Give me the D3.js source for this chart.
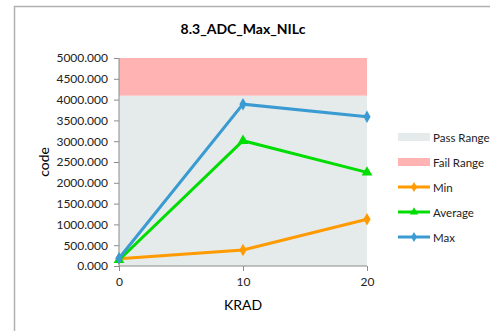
<!DOCTYPE html>
<html><head><meta charset="utf-8">
<script src="https://cdn.jsdelivr.net/npm/d3@7"></script>
<style>body{margin:0;background:#fff}svg{display:block}</style>
</head><body>
<svg id="c" width="490" height="331"></svg>
<script>
const categories = [0, 10, 20];
const minVals = [175, 385, 1122];
const avgVals = [145, 3010, 2250];
const maxVals = [185, 3890, 3590];
const passRange = [0, 4095];
const failRange = [4095, 5000];
const yTicks = [0, 500, 1000, 1500, 2000, 2500, 3000, 3500, 4000, 4500, 5000];
const title = "8.3_ADC_Max_NILc";

const font = "Lato, 'Open Sans', sans-serif";
const svg = d3.select("#c");
svg.append("rect").attr("x",14.5).attr("y",6.5).attr("width",490).attr("height",340)
  .attr("fill","#fff").attr("stroke","#b0b0b0").attr("stroke-width",1.5);

const x = d3.scaleLinear().domain([0,20]).range([119,367]);
const y = d3.scaleLinear().domain([0,5000]).range([266,58]);

svg.append("rect").attr("x",x(0)).attr("width",x(20)-x(0))
  .attr("y",y(passRange[1])).attr("height",y(passRange[0])-y(passRange[1])).attr("fill","#e5eaea");
svg.append("rect").attr("x",x(0)).attr("width",x(20)-x(0))
  .attr("y",y(failRange[1])).attr("height",y(failRange[0])-y(failRange[1])).attr("fill","#ffb3b3");

const yAxis = d3.axisLeft(y).tickValues(yTicks).tickFormat(d3.format(".3f")).tickSize(5).tickPadding(6);
const gy = svg.append("g").attr("transform",`translate(${x(0)},0)`).call(yAxis);
const xAxis = d3.axisBottom(x).tickValues(categories).tickSize(5).tickPadding(6);
const gx = svg.append("g").attr("transform",`translate(0,${y(0)})`).call(xAxis);
[gx,gy].forEach(g=>{
  g.selectAll("path,line").attr("stroke","#8c8c8c");
  g.selectAll("text").attr("font-family",font).attr("font-size",12).attr("fill","#222");
});
gy.select(".domain").attr("d",`M0,${y(5000)}V${y(0)}`);
gx.select(".domain").attr("d",`M${x(0)},0H${x(20)}`);

svg.append("text").attr("x",243).attr("y",34).attr("text-anchor","middle")
  .attr("font-family",font).attr("font-weight","bold").attr("font-size",14).text(title);
svg.append("text").attr("transform","translate(49,162) rotate(-90)").attr("text-anchor","middle")
  .attr("font-family",font).attr("font-size",14).text("code");
svg.append("text").attr("x",243).attr("y",310).attr("text-anchor","middle")
  .attr("font-family",font).attr("font-size",14).text("KRAD");

const series = [
  {name:"Min", vals:minVals, color:"#ff9a00", shape:d3.symbolDiamond},
  {name:"Average", vals:avgVals, color:"#00dd00", shape:d3.symbolTriangle},
  {name:"Max", vals:maxVals, color:"#3a9ad2", shape:d3.symbolDiamond}
];
const line = d3.line().x((d,i)=>x(categories[i])).y(d=>y(d));
series.forEach(s=>{
  svg.append("path").attr("d",line(s.vals)).attr("fill","none").attr("stroke",s.color).attr("stroke-width",3);
  svg.selectAll(null).data(s.vals).enter().append("path")
    .attr("d",d3.symbol().type(s.shape).size(s.shape===d3.symbolTriangle?50:45))
    .attr("transform",(d,i)=>`translate(${x(categories[i])},${y(d)})`).attr("fill",s.color);
});

// legend
const lx = 398, lw = 32;
const leg = [
  {name:"Pass Range", type:"rect", color:"#e5eaea", y:137},
  {name:"Fail Range", type:"rect", color:"#ffb3b3", y:162},
  {name:"Min", type:"line", color:"#ff9a00", shape:d3.symbolDiamond, y:187},
  {name:"Average", type:"line", color:"#00dd00", shape:d3.symbolTriangle, y:212},
  {name:"Max", type:"line", color:"#3a9ad2", shape:d3.symbolDiamond, y:237}
];
leg.forEach(l=>{
  if(l.type==="rect"){
    svg.append("rect").attr("x",lx).attr("y",l.y-4).attr("width",lw).attr("height",8).attr("fill",l.color);
  } else {
    svg.append("line").attr("x1",lx).attr("x2",lx+lw).attr("y1",l.y).attr("y2",l.y).attr("stroke",l.color).attr("stroke-width",3);
    svg.append("path").attr("d",d3.symbol().type(l.shape).size(30)).attr("transform",`translate(${lx+lw/2},${l.y})`).attr("fill",l.color);
  }
  svg.append("text").attr("x",lx+lw+3).attr("y",l.y+4.5).attr("font-family",font).attr("font-size",11.5).attr("fill","#222").text(l.name);
});
</script>
</body></html>
